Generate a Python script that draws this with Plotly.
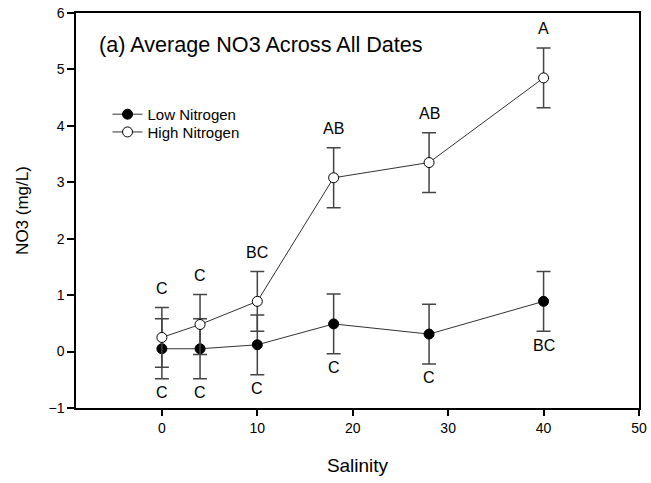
import plotly.graph_objects as go

# ---- data ----
salinity = [0, 4, 10, 18, 28, 40]
low_n = [0.05, 0.05, 0.12, 0.49, 0.31, 0.89]
low_se = [0.53, 0.53, 0.53, 0.53, 0.53, 0.53]
high_n = [0.25, 0.48, 0.89, 3.08, 3.35, 4.85]
high_se = [0.53, 0.53, 0.53, 0.53, 0.53, 0.53]
low_letters = ["C", "C", "C", "C", "C", "BC"]
high_letters = ["C", "C", "BC", "AB", "AB", "A"]

FONT = "Arial, Liberation Sans, sans-serif"

fig = go.Figure()

fig.add_trace(go.Scatter(
    x=salinity, y=low_n, name="Low Nitrogen", mode="lines+markers", legend="legend",
    line=dict(color="#333333", width=1),
    marker=dict(symbol="circle", size=10, color="black", line=dict(color="black", width=1)),
    error_y=dict(type="data", array=low_se, visible=True, color="#444444", thickness=1.5, width=7),
))
fig.add_trace(go.Scatter(
    x=salinity, y=high_n, name="High Nitrogen", mode="lines+markers", legend="legend2",
    line=dict(color="#333333", width=1),
    marker=dict(symbol="circle", size=10, color="white", line=dict(color="black", width=1)),
    error_y=dict(type="data", array=high_se, visible=True, color="#444444", thickness=1.5, width=7),
))

annotations = []
for x, m, s, t in zip(salinity, high_n, high_se, high_letters):
    annotations.append(dict(x=x, y=m + s, xref="x", yref="y", text=t, showarrow=False,
                            yanchor="middle", yshift=19, font=dict(family=FONT, size=16, color="black")))
for x, m, s, t in zip(salinity, low_n, low_se, low_letters):
    annotations.append(dict(x=x, y=m - s, xref="x", yref="y", text=t, showarrow=False,
                            yanchor="middle", yshift=-14, font=dict(family=FONT, size=16, color="black")))

annotations.append(dict(x=0.037, y=0.92, xref="paper", yref="paper", text="(a) Average NO3 Across All Dates",
                        showarrow=False, xanchor="left", yanchor="middle",
                        font=dict(family=FONT, size=21.6, color="black")))

leg_style = dict(xanchor="left", yanchor="top", bgcolor="rgba(0,0,0,0)",
                 font=dict(family=FONT, size=15, color="black"))

fig.update_layout(
    width=651, height=483,
    margin=dict(l=76, r=12, t=13, b=75, autoexpand=False),
    paper_bgcolor="white", plot_bgcolor="white",
    font=dict(family=FONT, color="black"),
    annotations=annotations,
    showlegend=True,
    legend=dict(x=0.056, y=0.785, **leg_style),
    legend2=dict(x=0.056, y=0.74, **leg_style),
    xaxis=dict(range=[-9, 50], tickvals=[0, 10, 20, 30, 40, 50], showgrid=False, zeroline=False,
               automargin=False,
               showline=True, linecolor="black", linewidth=1.5, mirror=True,
               ticks="outside", ticklen=6, tickcolor="black", tickwidth=1.5,
               tickfont=dict(family=FONT, size=14, color="black"),
               title=dict(text="Salinity", font=dict(family=FONT, size=19, color="black"), standoff=24)),
    yaxis=dict(range=[-1, 6], dtick=1, showgrid=False, zeroline=False,
               automargin=False,
               showline=True, linecolor="black", linewidth=1.5, mirror=True,
               ticks="outside", ticklen=7, tickcolor="black", tickwidth=1.5,
               tickfont=dict(family=FONT, size=14, color="black"),
               title=dict(text="NO3 (mg/L)", font=dict(family=FONT, size=17, color="black"), standoff=16)),
)

fig.write_html("out.html")
